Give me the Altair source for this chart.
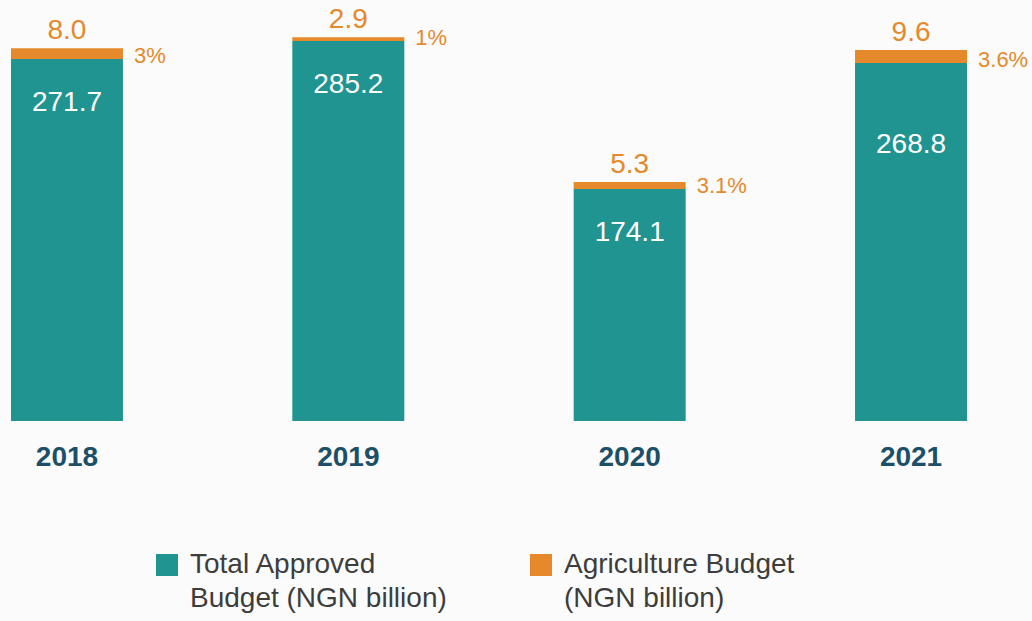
import altair as alt
import pandas as pd

# Budget figures, NGN billion
years = ["2018", "2019", "2020", "2021"]
total_budget = [271.7, 285.2, 174.1, 268.8]
agri_budget = [8.0, 2.9, 5.3, 9.6]
agri_share = ["3%", "1%", "3.1%", "3.6%"]

series_names = [
    "Total Approved\nBudget (NGN billion)",
    "Agriculture Budget\n(NGN billion)",
]

TEAL = "#1f9491"
ORANGE = "#e5892a"
FONT = "Liberation Sans"

# long table for the stacked bars
rows = []
for y, t, a in zip(years, total_budget, agri_budget):
    rows.append({"year": y, "series": series_names[0], "value": t, "order": 0})
    rows.append({"year": y, "series": series_names[1], "value": a, "order": 1})
bars_df = pd.DataFrame(rows)

# one row per year for the labels
labels_df = pd.DataFrame({
    "year": years,
    "total": total_budget,
    "agri": agri_budget,
    "share": agri_share,
})
labels_df["top"] = labels_df["total"] + labels_df["agri"]
labels_df["total_txt"] = [f"{v:.1f}" for v in total_budget]
labels_df["agri_txt"] = [f"{v:.1f}" for v in agri_budget]

x_enc = alt.X(
    "year:N",
    sort=years,
    scale=alt.Scale(paddingInner=0.602, paddingOuter=0.039),
    axis=alt.Axis(
        title=None,
        domain=False,
        ticks=False,
        labelAngle=0,
        labelFont=FONT,
        labelFontSize=28,
        labelFontWeight="bold",
        labelColor="#1b5068",
        labelPadding=22,
    ),
)
y_scale = alt.Scale(domain=[0, 316], nice=False, zero=True)

bars = alt.Chart(bars_df).mark_bar().encode(
    x=x_enc,
    y=alt.Y("value:Q", stack="zero", scale=y_scale, axis=None),
    color=alt.Color(
        "series:N",
        scale=alt.Scale(domain=series_names, range=[TEAL, ORANGE]),
        legend=alt.Legend(
            title=None,
            orient="none",
            legendX=153,
            legendY=551,
            direction="horizontal",
            symbolType="square",
            symbolSize=484,
            symbolStrokeWidth=0,
            symbolOpacity=1,
            labelFont=FONT,
            labelFontSize=28,
            labelColor="#3d3d3d",
            labelLimit=400,
            labelOffset=9,
            labelExpr="split(datum.label, '\\n')",
            columnPadding=80,
        ),
    ),
    order=alt.Order("order:Q"),
)

base = alt.Chart(labels_df).encode(x=alt.X("year:N", sort=years))

agri_values = base.mark_text(
    font=FONT, fontSize=28, color=ORANGE, baseline="alphabetic", dy=-9
).encode(y=alt.Y("top:Q", scale=y_scale), text="agri_txt:N")

total_values = base.transform_filter("datum.year != '2021'").mark_text(
    font=FONT, fontSize=28, color="white", baseline="middle", dy=44
).encode(y=alt.Y("total:Q", scale=y_scale), text="total_txt:N")

total_values_2021 = base.transform_filter("datum.year == '2021'").mark_text(
    font=FONT, fontSize=28, color="white", baseline="middle", dy=82
).encode(y=alt.Y("total:Q", scale=y_scale), text="total_txt:N")

share_values = base.mark_text(
    font=FONT, fontSize=22, color=ORANGE, baseline="middle", align="left",
    dx=67, dy=-3,
).encode(y=alt.Y("total:Q", scale=y_scale), text="share:N")

chart = (
    alt.layer(bars, agri_values, total_values, total_values_2021, share_values)
    .properties(
        width=978,
        height=421,
        autosize=alt.AutoSizeParams(type="none"),
        padding={"left": 0, "top": 0, "right": 54, "bottom": 200},
        background="#fbfbfb",
    )
    .configure(
        style={"guide-label": {"lineHeight": 34}},
        view=alt.ViewConfig(stroke=None),
    )
)

chart.save("out.html", embed_options={"renderer": "svg", "actions": False})
